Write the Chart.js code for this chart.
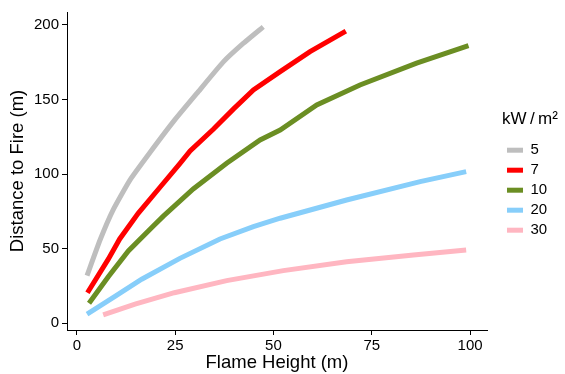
<!DOCTYPE html>
<html>
<head>
<meta charset="utf-8">
<script src="https://cdn.jsdelivr.net/npm/chart.js@4/dist/chart.umd.min.js"></script>
<style>
  body { margin: 0; background: #fff; }
  #wrap { width: 565px; height: 374px; }
</style>
</head>
<body>
<div id="wrap"><canvas id="myChart" width="565" height="374"></canvas></div>
<script>
// kW/m2 levels
const levels = ['5', '7', '10', '20', '30'];
const colors = ['#BEBEBE', '#FF0000', '#6B8E23', '#87CEFA', '#FFB6C1'];

// flame height (m) / distance to fire (m)
const x5 = [2.6, 5.9, 9.2, 13.5, 18.6, 24.5, 30.5, 37.2, 42.3, 47.4];
const y5 = [32.0, 55.8, 75.9, 96.0, 114.5, 135.0, 154.0, 175.0, 187.5, 198.6];

const x7 = [2.7, 8.0, 10.9, 15.6, 21.1, 26.2, 28.8, 34.7, 39.8, 44.9, 51.7, 59.3, 68.4];
const y7 = [20.5, 43.0, 56.5, 73.7, 91.0, 107.0, 115.5, 130.0, 143.5, 156.4, 168.6, 182.0, 195.8];

const x10 = [3.1, 8.0, 13.1, 19.0, 22.0, 29.6, 38.1, 46.6, 51.7, 61.0, 72.0, 86.4, 99.6];
const y10 = [13.4, 31.2, 48.5, 64.0, 71.8, 90.0, 107.2, 122.9, 129.5, 146.3, 159.7, 174.3, 186.1];

const x20 = [2.6, 9.7, 16.5, 26.2, 36.4, 44.9, 51.7, 68.6, 87.3, 99.0];
const y20 = [6.2, 18.0, 29.5, 43.5, 56.5, 64.7, 70.4, 82.6, 94.9, 101.6];

const x30 = [6.7, 14.8, 24.8, 38.1, 52.5, 68.6, 85.6, 99.0];
const y30 = [5.6, 12.9, 20.5, 28.6, 35.3, 41.3, 45.8, 49.1];

const xTicks = [0, 25, 50, 75, 100];
const yTicks = [0, 50, 100, 150, 200];

const xs = [x5, x7, x10, x20, x30];
const ys = [y5, y7, y10, y20, y30];

const datasets = levels.map((lv, i) => ({
  label: lv,
  data: xs[i].map((v, j) => ({ x: v, y: ys[i][j] })),
  borderColor: colors[i],
  backgroundColor: colors[i],
  borderWidth: 5,
  borderCapStyle: 'butt',
  pointRadius: 0,
  showLine: true,
  tension: i === 0 ? 0.15 : 0
}));

const font = 'Liberation Sans, Arial, Helvetica, sans-serif';

// legend box: fixed width, then nudged right and up like the ggplot guide
const legendPlace = {
  id: 'legendPlace',
  afterInit(chart) {
    const lg = chart.legend;
    const fit = lg.fit.bind(lg);
    lg.fit = function () { fit(); this.width = 78; };
  },
  afterLayout(chart) {
    const lg = chart.legend;
    lg.left += 15; lg.right += 15;
    lg.top -= 16; lg.bottom -= 16;
  }
};

const ctx = document.getElementById('myChart').getContext('2d');
const myChart = new Chart(ctx, {
  type: 'scatter',
  data: { datasets: datasets },
  plugins: [legendPlace],
  options: {
    responsive: false,
    animation: false,
    layout: { padding: { top: 12, right: 0, bottom: 0, left: 0 } },
    plugins: {
      tooltip: { enabled: false },
      legend: {
        position: 'right',
        align: 'center',
        title: {
          display: true,
          position: 'start',
          text: 'kW\u2009/\u2009m\u00B2',
          color: '#000',
          font: { family: font, size: 17 },
          padding: { top: 0, bottom: 6 }
        },
        labels: {
          color: '#000',
          font: { family: font, size: 15 },
          boxWidth: 16,
          boxHeight: 5,
          padding: 5,
          generateLabels: chart => chart.data.datasets.map((ds, i) => ({
            text: ds.label,
            fillStyle: ds.borderColor,
            strokeStyle: ds.borderColor,
            lineWidth: 0,
            hidden: false,
            datasetIndex: i
          }))
        }
      }
    },
    scales: {
      x: {
        type: 'linear',
        min: -2.5,
        max: 104.3,
        afterBuildTicks: axis => { axis.ticks = xTicks.map(v => ({ value: v })); },
        afterFit: axis => { axis.height = 44; },
        ticks: { color: '#000', font: { family: font, size: 15 }, padding: 2 },
        grid: { display: true, drawOnChartArea: false, drawTicks: true, tickLength: 5, color: '#000' },
        border: { display: true, color: '#000', width: 1 },
        title: {
          display: true,
          text: 'Flame Height (m)',
          color: '#000',
          font: { family: font, size: 18.5 },
          padding: { top: 0, bottom: 0 }
        }
      },
      y: {
        type: 'linear',
        min: -4.5,
        max: 208.6,
        afterBuildTicks: axis => { axis.ticks = yTicks.map(v => ({ value: v })); },
        afterFit: axis => { axis.width = 67; },
        ticks: { color: '#000', font: { family: font, size: 15 }, padding: 3 },
        grid: { display: true, drawOnChartArea: false, drawTicks: true, tickLength: 5, color: '#000' },
        border: { display: true, color: '#000', width: 1 },
        title: {
          display: true,
          text: 'Distance to Fire (m)',
          color: '#000',
          font: { family: font, size: 18.5 },
          padding: { top: 7, bottom: 0 }
        }
      }
    }
  }
});
</script>
</body>
</html>
